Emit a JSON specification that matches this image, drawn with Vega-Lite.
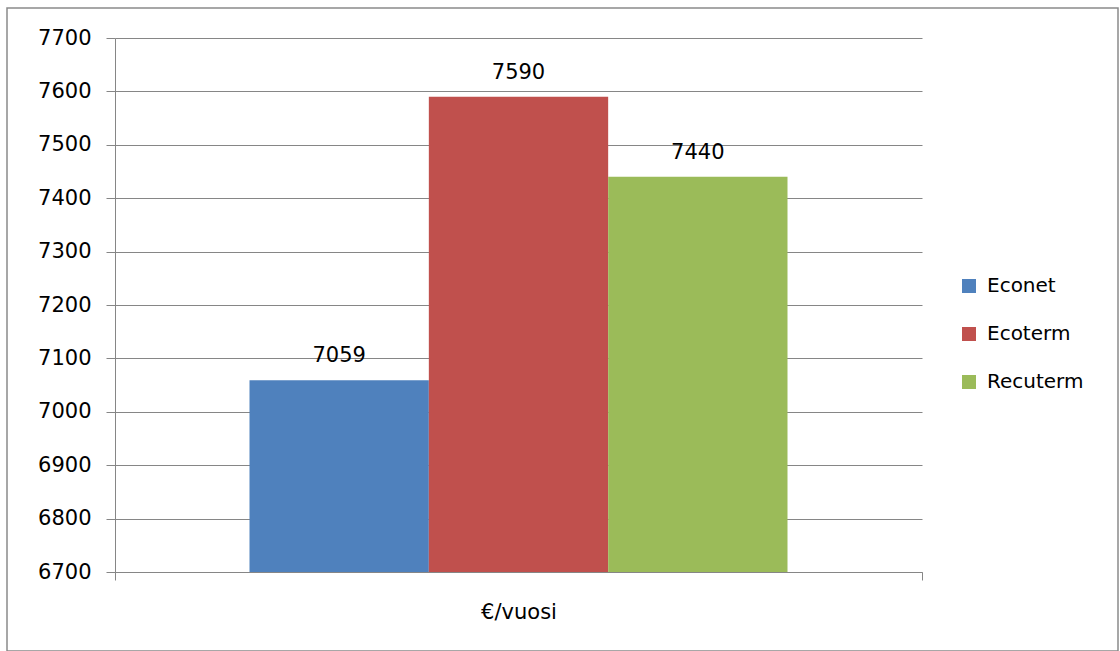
{
  "$schema": "https://vega.github.io/schema/vega-lite/v6.json",
  "width": 1111,
  "height": 643,
  "autosize": {"type": "none"},
  "padding": {"left": 7, "top": 8, "right": 2, "bottom": 0},
  "background": "white",
  "config": {
    "font": "DejaVu Sans",
    "view": {"stroke": "#8a8a8a", "strokeWidth": 1.5}
  },
  "data": {
    "values": [
      {"cat": "€/vuosi", "series": "Econet", "value": 7059},
      {"cat": "€/vuosi", "series": "Ecoterm", "value": 7590},
      {"cat": "€/vuosi", "series": "Recuterm", "value": 7440}
    ]
  },
  "encoding": {
    "x": {
      "field": "cat",
      "type": "nominal",
      "scale": {"range": [108, 915], "paddingInner": 0, "paddingOuter": 0},
      "axis": {
        "orient": "bottom",
        "offset": -79,
        "title": null,
        "labelAngle": 0,
        "tickBand": "extent",
        "tickSize": 8,
        "tickColor": "#868686",
        "domainColor": "#868686",
        "labelPadding": 21,
        "labelFontSize": 21,
        "labelFont": "DejaVu Sans",
        "labelColor": "#000000",
        "grid": false
      }
    },
    "xOffset": {
      "field": "series",
      "type": "nominal",
      "sort": ["Econet", "Ecoterm", "Recuterm"],
      "scale": {"paddingInner": 0, "paddingOuter": 0.75}
    },
    "y": {
      "field": "value",
      "type": "quantitative",
      "scale": {"domain": [6700, 7700], "range": [564, 30], "nice": false, "zero": false},
      "axis": {
        "title": null,
        "offset": -108,
        "format": "d",
        "values": [6700, 6800, 6900, 7000, 7100, 7200, 7300, 7400, 7500, 7600, 7700],
        "grid": true,
        "gridColor": "#868686",
        "gridOpacity": 1,
        "domainColor": "#868686",
        "tickColor": "#868686",
        "tickSize": 9,
        "labelPadding": 15,
        "labelFontSize": 21,
        "labelFont": "DejaVu Sans",
        "labelColor": "#000000"
      }
    }
  },
  "layer": [
    {
      "mark": {"type": "bar"},
      "encoding": {
        "y2": {"datum": 6700},
        "color": {
          "field": "series",
          "type": "nominal",
          "sort": ["Econet", "Ecoterm", "Recuterm"],
          "scale": {"domain": ["Econet", "Ecoterm", "Recuterm"], "range": ["#4F81BD", "#C0504D", "#9BBB59"]},
          "legend": {
            "title": null,
            "orient": "none",
            "legendX": 952,
            "legendY": 268,
            "padding": 0,
            "symbolType": "square",
            "symbolSize": 196,
            "symbolStrokeWidth": 0,
            "symbolOpacity": 1,
            "labelFontSize": 20,
            "labelFont": "DejaVu Sans",
            "labelColor": "#000000",
            "labelOffset": 8,
            "rowPadding": 28
          }
        }
      }
    },
    {
      "mark": {"type": "text", "baseline": "alphabetic", "align": "center", "dy": -18, "fontSize": 21, "font": "DejaVu Sans", "color": "#000000"},
      "encoding": {
        "text": {"field": "value", "type": "quantitative", "format": "d"}
      }
    }
  ]
}
